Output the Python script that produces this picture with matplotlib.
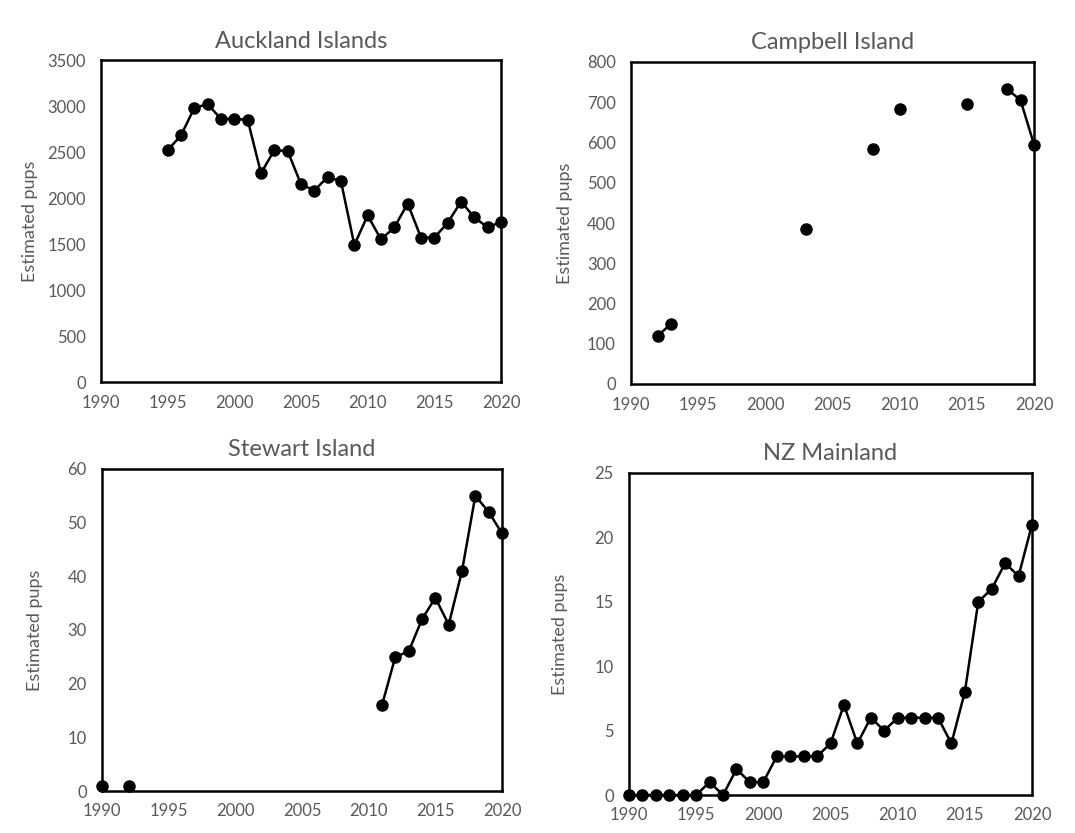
import numpy as np
import matplotlib
matplotlib.use("Agg")
import matplotlib.pyplot as plt

plt.rcParams['font.family'] = ['Lato', 'DejaVu Sans']

nan = np.nan
years = list(range(1990, 2021))

# Auckland Islands 1995-2020
auck_years = list(range(1995, 2021))
auck_pups = [2520, 2680, 2980, 3020, 2860, 2860, 2850, 2270, 2520, 2510,
             2150, 2080, 2230, 2180, 1490, 1810, 1550, 1680, 1940, 1570,
             1570, 1730, 1960, 1790, 1680, 1740]

# Campbell Island (gaps between surveys)
camp_years = [1992, 1993, 1994, 2003, 2004, 2008, 2009, 2010, 2011, 2015, 2016, 2018, 2019, 2020]
camp_pups = [120, 150, nan, 385, nan, 583, nan, 682, nan, 696, nan, 733, 705, 595]

# Stewart Island
stew_years = [1990, 1991, 1992, 1993, 2011, 2012, 2013, 2014, 2015, 2016, 2017, 2018, 2019, 2020]
stew_pups = [1, nan, 1, nan, 16, 25, 26, 32, 36, 31, 41, 55, 52, 48]

# NZ Mainland 1990-2020
nz_pups = [0, 0, 0, 0, 0, 0, 1, 0, 2, 1, 1, 3, 3, 3, 3, 4, 7, 4, 6, 5,
           6, 6, 6, 6, 4, 8, 15, 16, 18, 17, 21]

panels = [
    ("Auckland Islands", auck_years, auck_pups, 3500, 500, [101, 60, 501, 382], 30),
    ("Campbell Island", camp_years, camp_pups, 800, 100, [631, 62, 1034, 384], 565),
    ("Stewart Island", stew_years, stew_pups, 60, 10, [102, 469, 502, 791], 35),
    ("NZ Mainland", years, nz_pups, 25, 5, [629, 473, 1032, 795], 560),
]

W, H = 1075, 833
fig = plt.figure(figsize=(W / 100, H / 100), dpi=100)
grey = '#595959'

for title, x, y, ymax, ystep, box, lab_x in panels:
    l, t, r, b = box
    ax = fig.add_axes([l / W, 1 - b / H, (r - l) / W, (b - t) / H])
    ax.plot(x, y, color='black', lw=1.8, marker='o', markersize=8, clip_on=False, zorder=3)
    ax.set_xlim(1990, 2020)
    ax.set_ylim(0, ymax)
    ax.set_xticks(range(1990, 2021, 5))
    ax.set_yticks(np.arange(0, ymax + ystep / 2, ystep))
    ax.tick_params(length=0, labelsize=12, colors=grey)
    ax.tick_params(axis='y', pad=11)
    ax.tick_params(axis='x', pad=9)
    for s in ax.spines.values():
        s.set_linewidth(1.8)
        s.set_color('black')
    ax.set_title(title, fontsize=17, color=grey, pad=9)
    ax.set_ylabel("Estimated pups", fontsize=13, color=grey, va='center')
    ax.yaxis.set_label_coords((lab_x - l) / (r - l), 0.5)

plt.savefig("out.png", dpi=100)
